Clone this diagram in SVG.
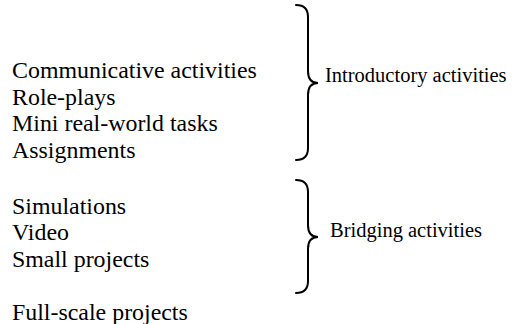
<svg xmlns="http://www.w3.org/2000/svg" width="517" height="324" viewBox="0 0 517 324">
  <style>
    text { font-family: "Liberation Serif", "Times New Roman", serif; font-size: 23.9px; fill: #000; }
    text.label { font-size: 20.5px; }
    .brace { fill: none; stroke: #000; stroke-width: 2; stroke-linecap: round; }
  </style>
  <rect width="517" height="324" fill="#fff"/>

  <!-- activity lists -->
  <g id="intro-list">
    <text x="12" y="78">Communicative activities</text>
    <text x="12" y="104.5">Role-plays</text>
    <text x="12" y="131">Mini real-world tasks</text>
    <text x="12" y="157.5">Assignments</text>
  </g>
  <g id="bridging-list">
    <text x="12" y="213.5">Simulations</text>
    <text x="12" y="240">Video</text>
    <text x="12" y="266.5">Small projects</text>
  </g>
  <g id="fullscale">
    <text x="12" y="320">Full-scale projects</text>
  </g>

  <!-- curly braces grouping the lists -->
  <g id="connectors">
    <path class="brace" d="M296,5 Q308,5 308,17 L308,71 Q308,83 318,83 Q308,83 308,95 L308,148 Q308,160 296,160"/>
    <path class="brace" d="M296,180 Q308,180 308,192 L308,225 Q308,237 318,237 Q308,237 308,249 L308,281 Q308,293 296,293"/>
  </g>

  <!-- group labels -->
  <g id="intro-label">
    <text class="label" x="325" y="82">Introductory activities</text>
  </g>
  <g id="bridging-label">
    <text class="label" x="330" y="237">Bridging activities</text>
  </g>
</svg>
